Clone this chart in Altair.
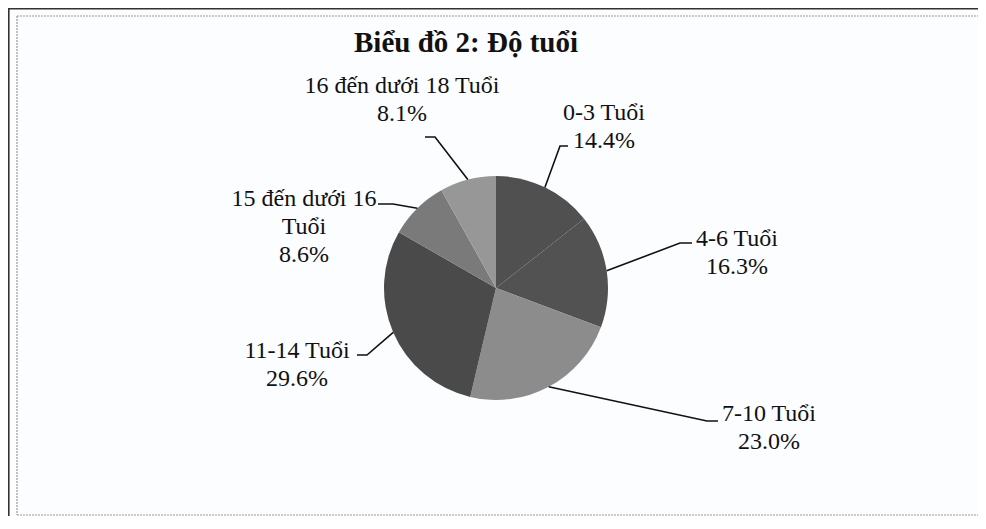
import altair as alt
import pandas as pd
import numpy as np

# ---------------- data ----------------
label_names = ["0-3 Tuổi", "4-6 Tuổi", "7-10 Tuổi", "11-14 Tuổi",
               "15 đến dưới 16\nTuổi", "16 đến dưới 18 Tuổi"]
percent = [14.4, 16.3, 23.0, 29.6, 8.6, 8.1]
title_text = "Biểu đồ 2: Độ tuổi"

# ---------------- styles / layout (page pixels) ----------------
slice_colors = ["#505050", "#525252", "#8c8c8c", "#4a4a4a", "#7a7a7a", "#979797"]
OFF = 8                      # page margin
CX, CY, R = 496, 288, 112    # pie centre and radius
label_cx = [604, 737, 769, 297, 304, 402]
label_by = [120, 246, 421, 358, 206, 93]
elbow_x = [560, 680, 707, 367, 393, 435]
elbow_y = [146, 243, 421, 355, 204, 137]
end_x = [568, 692, 718, 357, 378, 425]

W, H = 970, 508

categories = [n.replace("\n", " ") for n in label_names]
pie_df = pd.DataFrame({
    "cat": categories,
    "value": percent,
    "idx": list(range(len(percent))),
    "color": slice_colors,
})

# leader lines: from slice mid-angle edge point -> elbow -> label
vals = np.array(percent, dtype=float)
cum = np.cumsum(vals) - vals / 2
ang = cum / vals.sum() * 2 * np.pi
rows = []
for i, c in enumerate(categories):
    ex = CX + R * np.sin(ang[i])
    ey = CY - R * np.cos(ang[i])
    pts = [(ex, ey), (elbow_x[i], elbow_y[i]), (end_x[i], elbow_y[i])]
    for k, (px, py) in enumerate(pts):
        rows.append({"cat": c, "ord": k, "x": px - OFF, "y": py - OFF})
line_df = pd.DataFrame(rows)

text_df = pd.DataFrame({
    "cat": categories,
    "label": [f"{n}\n{p:.1f}%" for n, p in zip(label_names, percent)],
    "x": [v - OFF for v in label_cx],
    "y": [v - OFF for v in label_by],
})

title_df = pd.DataFrame({"t": [title_text], "x": [466 - OFF], "y": [52 - OFF]})

pie = alt.Chart(pie_df).mark_arc(radius=R, stroke=None).encode(
    theta=alt.Theta("value:Q", stack=True),
    order=alt.Order("idx:Q"),
    color=alt.Color("color:N", scale=None),
    x=alt.value(CX - OFF),
    y=alt.value(CY - OFF),
)

leaders = alt.Chart(line_df).mark_line(color="#111111", strokeWidth=1.6).encode(
    x=alt.X("x:Q", scale=None),
    y=alt.Y("y:Q", scale=None),
    detail="cat:N",
    order="ord:Q",
)

labels = alt.Chart(text_df).mark_text(
    font="Liberation Serif", fontSize=24, align="center", baseline="alphabetic",
    lineBreak="\n", lineHeight=28, color="#111111",
).encode(
    x=alt.X("x:Q", scale=None),
    y=alt.Y("y:Q", scale=None),
    text="label:N",
)

title = alt.Chart(title_df).mark_text(
    font="Liberation Serif", fontSize=29, fontWeight="bold", align="center",
    baseline="alphabetic", color="#111111",
).encode(
    x=alt.X("x:Q", scale=None),
    y=alt.Y("y:Q", scale=None),
    text="t:N",
)

frame_outer_left = alt.Chart(pie_df.head(1)).mark_rule(color="#333333", strokeWidth=1.6).encode(
    x=alt.value(0.8), y=alt.value(0), y2=alt.value(H))
frame_outer_top = alt.Chart(pie_df.head(1)).mark_rule(color="#333333", strokeWidth=1.6).encode(
    x=alt.value(0), x2=alt.value(W), y=alt.value(0.8))
frame_in_left = alt.Chart(pie_df.head(1)).mark_rule(color="#9a9a9a", strokeWidth=1.2, strokeDash=[2, 1]).encode(
    x=alt.value(17 - OFF), y=alt.value(16 - OFF), y2=alt.value(H - 1))
frame_in_top = alt.Chart(pie_df.head(1)).mark_rule(color="#9a9a9a", strokeWidth=1.2, strokeDash=[2, 1]).encode(
    x=alt.value(17 - OFF), x2=alt.value(W), y=alt.value(16 - OFF))
frame_in_bottom = alt.Chart(pie_df.head(1)).mark_rule(color="#9a9a9a", strokeWidth=1.2, strokeDash=[2, 1]).encode(
    x=alt.value(17 - OFF), x2=alt.value(W), y=alt.value(H - 1))

chart = alt.layer(
    frame_outer_left, frame_outer_top, frame_in_left, frame_in_top, frame_in_bottom,
    pie, leaders, labels, title,
).properties(
    width=W, height=H, background="#fcfdff", padding=0,
    autosize=alt.AutoSizeParams(type="none"),
).configure_view(stroke=None)

chart.save("out.html", embed_options={"renderer": "svg", "actions": False})
